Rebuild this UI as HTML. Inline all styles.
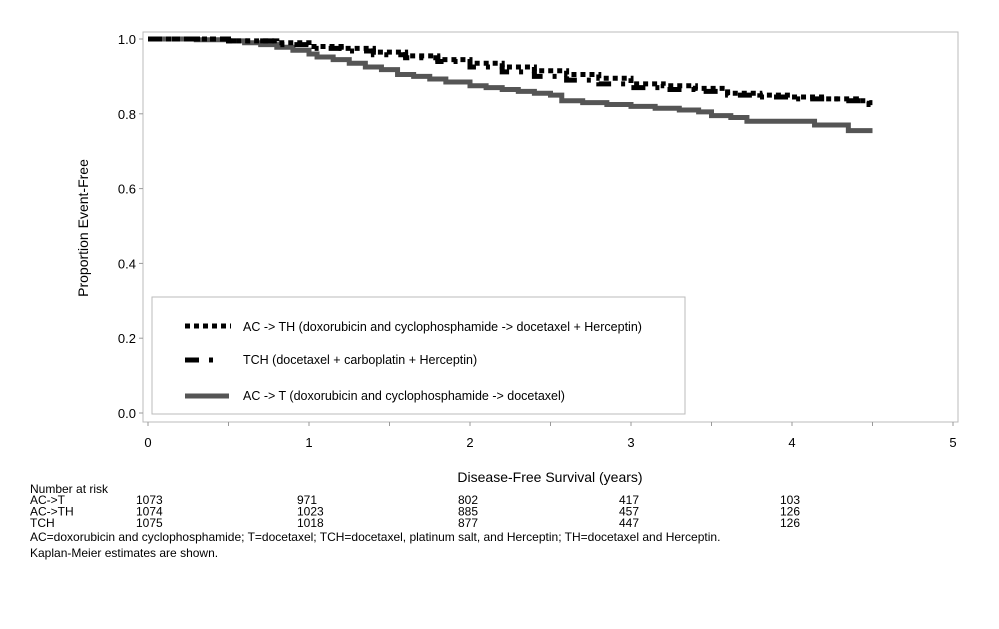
<!DOCTYPE html>
<html><head><meta charset="utf-8"><style>
body{margin:0;background:#fff;}
svg text{font-family:"Liberation Sans",Arial,sans-serif;}
.rt{font-family:"Liberation Sans",sans-serif;font-size:12px;fill:#000;}
</style></head><body>
<svg id="chart" width="999" height="624" viewBox="0 0 999 624" xmlns="http://www.w3.org/2000/svg">
<rect x="143" y="32" width="815" height="390" fill="#fff" stroke="#bbb" stroke-width="1"/>
<g id="axes"></g>
<g id="series"></g>
<text x="88" y="228" font-size="14" text-anchor="middle" transform="rotate(-90 88 228)">Proportion Event-Free</text>
<text x="550" y="482" font-size="14" text-anchor="middle">Disease-Free Survival (years)</text>
<g>
<rect x="152" y="297" width="533" height="117" fill="#fff" stroke="#bbb"/>
<line x1="185" y1="326" x2="231" y2="326" stroke="#000" stroke-width="5" stroke-dasharray="5,4"/>
<text x="243" y="331" font-size="12.5">AC -&gt; TH (doxorubicin and cyclophosphamide -&gt; docetaxel + Herceptin)</text>
<line x1="185" y1="360" x2="229" y2="360" stroke="#000" stroke-width="5" stroke-dasharray="14,10,4,20"/>
<text x="243" y="364" font-size="12.5">TCH (docetaxel + carboplatin + Herceptin)</text>
<line x1="185" y1="396" x2="229" y2="396" stroke="#555" stroke-width="5"/>
<text x="243" y="400" font-size="12.5">AC -&gt; T (doxorubicin and cyclophosphamide -&gt; docetaxel)</text>
</g>
<g>
<text class="rt" x="30" y="493">Number at risk</text>
<g id="risk"></g>
<text class="rt" x="30" y="541">AC=doxorubicin and cyclophosphamide; T=docetaxel; TCH=docetaxel, platinum salt, and Herceptin; TH=docetaxel and Herceptin.</text>
<text class="rt" x="30" y="557">Kaplan-Meier estimates are shown.</text>
</g>
</svg>
<script>
const xTicks=[0,1,2,3,4,5];
const yTicks=[0.0,0.2,0.4,0.6,0.8,1.0];
const actTimes=[0,0.3,0.5,0.6,0.7,0.8,0.9,1.0,1.05,1.15,1.25,1.35,1.45,1.55,1.65,1.75,1.85,2.0,2.1,2.2,2.3,2.4,2.5,2.57,2.7,2.85,3.0,3.15,3.3,3.42,3.5,3.62,3.72,4.14,4.35,4.5];
const actVals=[1.0,0.998,0.995,0.99,0.985,0.978,0.97,0.96,0.952,0.945,0.935,0.925,0.918,0.905,0.9,0.893,0.885,0.875,0.87,0.865,0.86,0.855,0.85,0.835,0.83,0.825,0.82,0.815,0.81,0.805,0.795,0.79,0.78,0.77,0.755,0.755];
const acthTimes=[0,0.5,0.8,1.0,1.2,1.4,1.6,1.8,2.0,2.2,2.4,2.6,2.8,3.0,3.2,3.4,3.6,3.8,4.0,4.2,4.4,4.48,4.5];
const acthVals=[1.0,0.995,0.99,0.98,0.975,0.965,0.955,0.945,0.935,0.925,0.915,0.905,0.895,0.88,0.875,0.868,0.855,0.85,0.845,0.84,0.835,0.83,0.83];
const tchTimes=[0,0.5,0.8,1.0,1.2,1.4,1.6,1.8,2.0,2.2,2.4,2.6,2.8,3.0,3.2,3.4,3.6,3.8,4.0,4.3,4.45,4.5];
const tchVals=[1.0,0.995,0.985,0.975,0.968,0.958,0.95,0.94,0.925,0.912,0.9,0.89,0.88,0.87,0.865,0.86,0.85,0.845,0.84,0.835,0.825,0.815];
const riskLabels=["AC->T","AC->TH","TCH"];
const riskAct=[1073,971,802,417,103];
const riskActh=[1074,1023,885,457,126];
const riskTch=[1075,1018,877,447,126];
const riskTimes=[0,1,2,3,4];
const NS="http://www.w3.org/2000/svg";
const xs=v=>148+v*161, ys=v=>413-v*374;
function mk(t,a,p){const e=document.createElementNS(NS,t);for(const k in a)e.setAttribute(k,a[k]);p.appendChild(e);return e;}
const ax=document.getElementById('axes');
for(let i=0;i<=10;i++){const l=mk('line',{x1:xs(i/2),x2:xs(i/2),y1:422,y2:426,stroke:'#999'},ax);

}
xTicks.forEach(v=>{const t=mk('text',{x:xs(v),y:447,'font-size':13,'text-anchor':'middle'},ax);t.textContent=v;

});
yTicks.forEach(v=>{const l=mk('line',{x1:139,x2:143,y1:ys(v),y2:ys(v),stroke:'#999'},ax);


const t=mk('text',{x:136,y:ys(v)+5,'font-size':13,'text-anchor':'end'},ax);t.textContent=v.toFixed(1);

});
function step(ts,vs){let d='M'+xs(ts[0])+','+ys(vs[0]);for(let i=1;i<ts.length;i++){d+=' H'+xs(ts[i])+' V'+ys(vs[i]);}return d;}
const sg=document.getElementById('series');
const p1=mk('path',{d:step(actTimes,actVals),fill:'none',stroke:'#555','stroke-width':5},sg);


const p2=mk('path',{d:step(tchTimes,tchVals),fill:'none',stroke:'#000','stroke-width':5,'stroke-dasharray':'14,10,4,10'},sg);


const p3=mk('path',{d:step(acthTimes,acthVals),fill:'none',stroke:'#000','stroke-width':5,'stroke-dasharray':'5,4'},sg);


const rg=document.getElementById('risk');
[riskAct,riskActh,riskTch].forEach((row,r)=>{const y=504+r*11.5;
const lb=mk('text',{class:'rt',x:30,y:y},rg);lb.textContent=riskLabels[r];


row.forEach((n,i)=>{const t=mk('text',{class:'rt',x:xs(riskTimes[i])-12,y:y},rg);t.textContent=n;

});});
</script>
</body></html>
